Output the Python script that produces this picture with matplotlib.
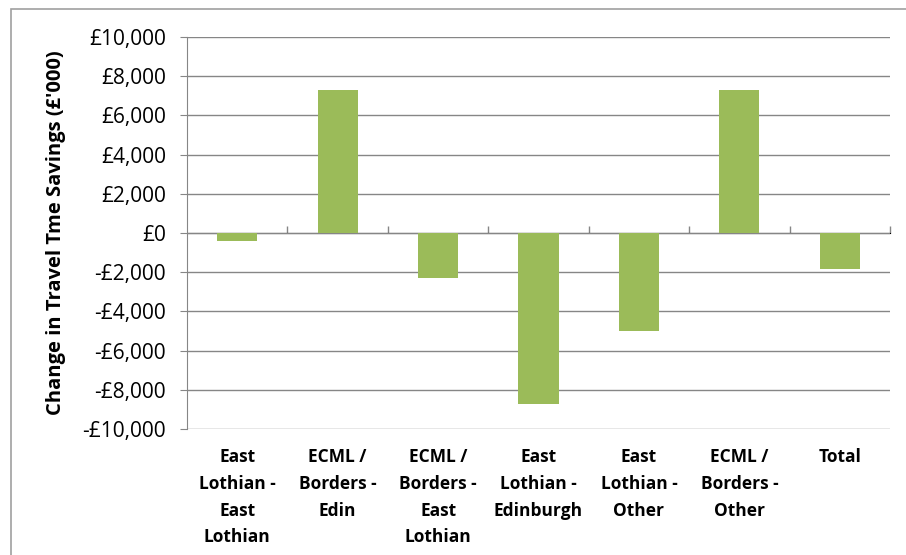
import numpy as np
import matplotlib.pyplot as plt
from matplotlib.patches import Rectangle

plt.rcParams['font.family'] = ['Open Sans', 'DejaVu Sans']

flows = ['East\nLothian -\nEast\nLothian', 'ECML /\nBorders -\nEdin',
         'ECML /\nBorders -\nEast\nLothian', 'East\nLothian -\nEdinburgh',
         'East\nLothian -\nOther', 'ECML /\nBorders -\nOther', 'Total']
savings = [-400, 7300, -2270, -8700, -5000, 7300, -1850]
yticks = np.arange(-10000, 10001, 2000)

bar_col = '#9bbb59'
line_col = '#868686'

fig = plt.figure(figsize=(9.06, 5.55), dpi=100)
ax = fig.add_axes([0.2064, 0.227, 0.776, 0.7063])

# outer chart frame, runs off the right and bottom edges
fig.patches.append(Rectangle((0.012, -0.1), 1.2, 1.084, transform=fig.transFigure,
                             fill=False, edgecolor='#a0a0a0', lw=1.2))

x = np.arange(len(flows))
ax.bar(x, savings, width=0.4, color=bar_col, zorder=3)

ax.set_xlim(-0.5, len(flows) - 0.5)
ax.set_ylim(-10000, 10000)
ax.set_yticks(yticks)
ax.set_yticklabels([f"£{v:,}" if v >= 0 else f"-£{-v:,}" for v in yticks], fontsize=15)
ax.yaxis.grid(True, color=line_col, lw=1)
ax.set_axisbelow(True)
ax.tick_params(axis='y', length=5, color=line_col, pad=10)

for s in ['top', 'right', 'bottom']:
    ax.spines[s].set_visible(False)
ax.spines['left'].set_color(line_col)

ax.set_xticks(x)
ax.set_xticklabels(flows, fontsize=12.5, fontweight='bold', linespacing=1.62, va='top')
ax.tick_params(axis='x', length=0, pad=14)

# zero axis with category separators
zero_ax = ax.secondary_xaxis(0.5)
zero_ax.set_xticks(np.arange(len(flows)) + 0.5)
zero_ax.set_xticklabels([])
zero_ax.tick_params(length=5, color=line_col, width=1)
zero_ax.spines['bottom'].set_color(line_col)
zero_ax.spines['bottom'].set_linewidth(1.5)

ax.set_ylabel("Change in Travel Tme Savings (£'000)", fontsize=14.5, fontweight='bold', labelpad=12)

fig.savefig('out.png', dpi=100)
